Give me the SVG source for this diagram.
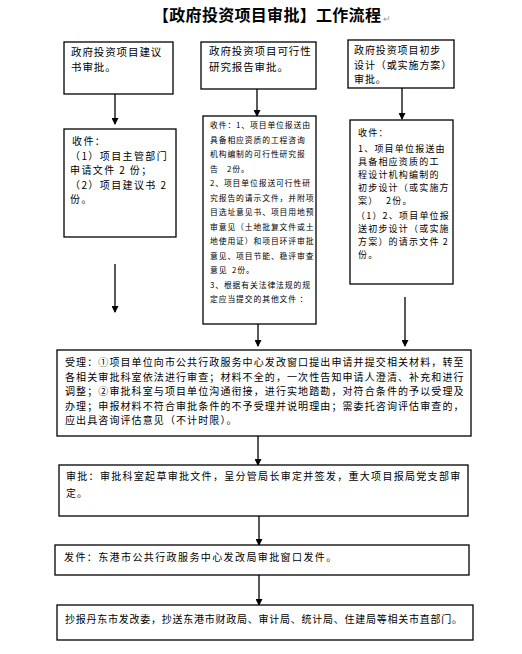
<svg xmlns="http://www.w3.org/2000/svg" width="522" height="654" viewBox="0 0 522 654">
<style>
text{font-family:"Noto Sans CJK SC","Liberation Sans",sans-serif;fill:#000}
.box{fill:#fff;stroke:#000;stroke-width:1.3}
.t{font-size:10.5px;letter-spacing:0.9px}
.m{font-size:10px;letter-spacing:1.4px}
.s{font-size:7.8px;letter-spacing:0.9px}
.r{font-size:9px;letter-spacing:1.2px}
.w{font-size:10px;letter-spacing:1.1px}
.title{font-size:16px;font-weight:bold;letter-spacing:0.3px}
.pm{fill:#999;font-size:9px}
.c line{stroke:#000;stroke-width:1.3;marker-end:url(#ah)}
</style>
<defs>
<marker id="ah" markerUnits="userSpaceOnUse" markerWidth="7" markerHeight="7" refX="6" refY="3.5" orient="auto">
<path d="M0,0 L7,3.5 L0,7 z" fill="#000"/>
</marker>
</defs>
<rect width="522" height="654" fill="#fff"/>
<g id="title">
<text class="title" x="153" y="21">【政府投资项目审批】工作流程</text>
<text class="pm" x="383" y="22">↵</text>
</g>
<g class="c" id="connectors">
<line x1="115" y1="94" x2="115" y2="124"/>
<line x1="257" y1="89" x2="257" y2="116"/>
<line x1="402" y1="88" x2="402" y2="119"/>
<line x1="115" y1="264" x2="115" y2="312"/>
<line x1="258" y1="324" x2="258" y2="346"/>
<line x1="405" y1="297" x2="405" y2="346"/>
<line x1="258" y1="436" x2="258" y2="465"/>
<line x1="259" y1="516" x2="259" y2="545"/>
<line x1="259" y1="575" x2="259" y2="605"/>
</g>
<g id="n1">
<rect class="box" x="64" y="42" width="109" height="52"/>
<text class="t" x="71" y="56">政府投资项目建议</text>
<text class="t" x="71" y="71">书审批。</text>
</g>
<g id="n2">
<rect class="box" x="201" y="42" width="115" height="47"/>
<text class="t" x="209" y="55">政府投资项目可行性</text>
<text class="t" x="209" y="71">研究报告审批。</text>
</g>
<g id="n3">
<rect class="box" x="348" y="40" width="106" height="48"/>
<text class="t" x="354" y="54" style="font-size:10px">政府投资项目初步</text>
<text class="t" x="354" y="68.5" style="font-size:10px">设计（或实施方案）</text>
<text class="t" x="354" y="83" style="font-size:10px">审批。</text>
</g>
<g id="n1b">
<rect class="box" x="64" y="129" width="112" height="108"/>
<text class="m" x="72" y="145">收件：</text>
<text class="m" x="70" y="159.5">（1）项目主管部门</text>
<text class="m" x="70" y="174">申请文件 2 份；</text>
<text class="m" x="70" y="188.5">（2）项目建议书 2</text>
<text class="m" x="70" y="203">份。</text>
</g>
<g id="n2b">
<rect class="box" x="203" y="116" width="113" height="208"/>
<text class="s" x="210" y="128">收件：1、项目单位报送由</text>
<text class="s" x="210" y="142.5">具备相应资质的工程咨询</text>
<text class="s" x="210" y="157">机构编制的可行性研究报</text>
<text class="s" x="210" y="171.5">告<tspan x="227">2份。</tspan></text>
<text class="s" x="210" y="186">2、项目单位报送可行性研</text>
<text class="s" x="210" y="200.5">究报告的请示文件，并附项</text>
<text class="s" x="210" y="215">目选址意见书、项目用地预</text>
<text class="s" x="210" y="229.5">审意见（土地批复文件或土</text>
<text class="s" x="210" y="244">地使用证）和项目环评审批</text>
<text class="s" x="210" y="258.5">意见、项目节能、稳评审查</text>
<text class="s" x="210" y="273">意见<tspan x="232">2份。</tspan></text>
<text class="s" x="210" y="287.5">3、根据有关法律法规的规</text>
<text class="s" x="210" y="302">定应当提交的其他文件 ：</text>
</g>
<g id="n3b">
<rect class="box" x="350" y="120" width="103" height="164"/>
<text class="r" x="358" y="136">收件：</text>
<text class="r" x="358" y="152">1、项目单位报送由</text>
<text class="r" x="358" y="165">具备相应资质的工</text>
<text class="r" x="358" y="178">程设计机构编制的</text>
<text class="r" x="358" y="191">初步设计（或实施方</text>
<text class="r" x="358" y="204">案）<tspan x="386">2份。</tspan></text>
<text class="r" x="356" y="219">（1）2、项目单位报</text>
<text class="r" x="358" y="232">送初步设计（或实施</text>
<text class="r" x="358" y="245">方案）的请示文件 2</text>
<text class="r" x="358" y="258">份。</text>
</g>
<g id="n4">
<rect class="box" x="57" y="350" width="414" height="86"/>
<text class="w" x="65" y="366">受理：①项目单位向市公共行政服务中心发改窗口提出申请并提交相关材料，转至</text>
<text class="w" x="65" y="380.5">各相关审批科室依法进行审查；材料不全的，一次性告知申请人澄清、补充和进行</text>
<text class="w" x="65" y="395">调整；②审批科室与项目单位沟通衔接，进行实地踏勘，对符合条件的予以受理及</text>
<text class="w" x="65" y="409.5">办理；申报材料不符合审批条件的不予受理并说明理由；需委托咨询评估审查的，</text>
<text class="w" x="65" y="424">应出具咨询评估意见（不计时限）。</text>
</g>
<g id="n5">
<rect class="box" x="59" y="465" width="409" height="51"/>
<text class="w" x="66" y="480" style="letter-spacing:1.3px">审批：审批科室起草审批文件，呈分管局长审定并签发，重大项目报局党支部审</text>
<text class="w" x="66" y="497">定。</text>
</g>
<g id="n6">
<rect class="box" x="55" y="545" width="414" height="30"/>
<text class="w" x="64" y="561" style="letter-spacing:1.4px">发件：东港市公共行政服务中心发改局审批窗口发件。</text>
</g>
<g id="n7">
<rect class="box" x="57" y="605" width="416" height="35"/>
<text class="w" x="65" y="623" style="letter-spacing:0.75px">抄报丹东市发改委，抄送东港市财政局、审计局、统计局、住建局等相关市直部门。</text>
</g>
</svg>
